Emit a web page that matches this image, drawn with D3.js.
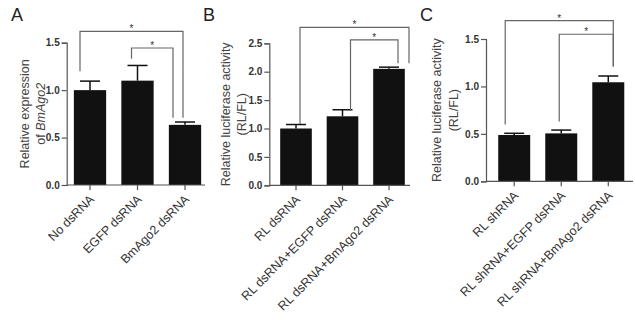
<!DOCTYPE html>
<html>
<head>
<meta charset="utf-8">
<script src="https://cdn.jsdelivr.net/npm/d3@7"></script>
<style>
  body { margin: 0; background: #fff; }
  svg { font-family: Arial, "Liberation Sans", sans-serif; }
</style>
</head>
<body>
<div id="container"></div>
<script>
/* DATA */
const catsA = ["No dsRNA", "EGFP dsRNA", "BmAgo2 dsRNA"];
const meanA = [1.0, 1.10, 0.634];
const errA = [0.095, 0.16, 0.03];
const ticksA = [0, 0.5, 1.0, 1.5];
// [from, to, level, left leg bottom, right leg bottom]
const sigA = [[0, 2, 1.62, 1.20, 0.71], [1, 2, 1.444, 1.33, 0.71]];

const catsB = ["RL dsRNA", "RL dsRNA+EGFP dsRNA", "RL dsRNA+BmAgo2 dsRNA"];
const meanB = [1.0, 1.215, 2.05];
const errB = [0.07, 0.115, 0.03];
const ticksB = [0, 0.5, 1.0, 1.5, 2.0, 2.5];
const sigB = [[0, 2, 2.78, 1.08, 2.15], [1, 2, 2.56, 1.31, 2.15]];

const catsC = ["RL shRNA", "RL shRNA+EGFP dsRNA", "RL shRNA+BmAgo2 dsRNA"];
const meanC = [0.488, 0.505, 1.044];
const errC = [0.018, 0.035, 0.066];
const ticksC = [0, 0.5, 1.0, 1.5];
const sigC = [[0, 2, 1.694, 0.60, 1.21], [1, 2, 1.55, 0.63, 1.21]];

/* LAYOUT */
const width = 635, height = 320;

const panels = [
  { letter: "A", cats: catsA, mean: meanA, err: errA, ticks: ticksA, sig: sigA,
    axisX: 66.7, y0: 185, yTop: 42.7, band: [66.25, 208.75], xEnd: 205,
    legDx: [[-10, -2], [-6, -12]], labelX: [24, 40], letterX: 11,
    ylab: ["Relative expression", "of "], ylabItalic: "BmAgo2" },
  { letter: "B", cats: catsB, mean: meanB, err: errB, ticks: ticksB, sig: sigB,
    axisX: 269.3, y0: 185.3, yTop: 43.3, band: [272.75, 412.25], xEnd: 410,
    legDx: [[4, 20], [8, 9]], labelX: [225, 241], letterX: 203,
    ylab: ["Relative luciferase activity", "(RL/FL)"] },
  { letter: "C", cats: catsC, mean: meanC, err: errC, ticks: ticksC, sig: sigC,
    axisX: 486, y0: 181.3, yTop: 39, band: [490.7, 631.8], xEnd: 633,
    legDx: [[-9, 5], [-2, 5]], labelX: [436, 453], letterX: 420,
    ylab: ["Relative luciferase activity", "(RL/FL)"] }
];

const svg = d3.select("#container")
  .append("svg")
  .attr("width", width)
  .attr("height", height);

panels.forEach(p => {
  const g = svg.append("g");
  const ymax = p.ticks[p.ticks.length - 1];

  // SCALES
  const xScale = d3.scaleBand()
    .domain(p.cats)
    .range(p.band)
    .paddingInner(0.32)
    .paddingOuter(0.16);

  const yScale = d3.scaleLinear()
    .domain([0, ymax])
    .range([p.y0, p.yTop]);

  // BARS
  g.selectAll("rect.bar")
    .data(p.cats)
    .join("rect")
    .attr("class", "bar")
    .attr("x", d => xScale(d))
    .attr("y", (d, i) => yScale(p.mean[i]))
    .attr("width", xScale.bandwidth())
    .attr("height", (d, i) => p.y0 - yScale(p.mean[i]))
    .attr("fill", "#111");

  // ERROR BARS (upper only)
  const cap = 10;
  p.cats.forEach((c, i) => {
    const cx = xScale(c) + xScale.bandwidth() / 2;
    const top = yScale(p.mean[i] + p.err[i]);
    g.append("line")
      .attr("x1", cx).attr("x2", cx)
      .attr("y1", yScale(p.mean[i])).attr("y2", top)
      .attr("stroke", "#111").attr("stroke-width", 1.5);
    g.append("line")
      .attr("x1", cx - cap).attr("x2", cx + cap)
      .attr("y1", top).attr("y2", top)
      .attr("stroke", "#111").attr("stroke-width", 1.5);
  });

  // Y AXIS
  const yAxis = d3.axisLeft(yScale)
    .tickValues(p.ticks)
    .tickFormat(d3.format(".1f"))
    .tickSize(5)
    .tickPadding(2);

  const ya = g.append("g")
    .attr("transform", `translate(${p.axisX},0)`)
    .call(yAxis);
  ya.select(".domain").attr("stroke", "#555").attr("stroke-width", 1.2);
  ya.selectAll(".tick line").attr("stroke", "#555").attr("stroke-width", 1.2);
  ya.selectAll(".tick text")
    .attr("fill", "#333")
    .attr("font-size", 10)
    .attr("font-weight", "bold")
    .attr("font-family", "Arial, 'Liberation Sans', sans-serif");

  // X AXIS
  g.append("line")
    .attr("x1", p.axisX).attr("x2", p.xEnd)
    .attr("y1", p.y0).attr("y2", p.y0)
    .attr("stroke", "#555").attr("stroke-width", 1.2);

  const xAxis = d3.axisBottom(xScale).tickSize(5).tickSizeOuter(0).tickFormat("");
  const xa = g.append("g")
    .attr("transform", `translate(0,${p.y0})`)
    .call(xAxis);
  xa.select(".domain").remove();
  xa.selectAll(".tick line").attr("stroke", "#555").attr("stroke-width", 1.2);

  // X LABELS
  g.selectAll("text.xlab")
    .data(p.cats)
    .join("text")
    .attr("class", "xlab")
    .attr("transform", d => `translate(${xScale(d) + xScale.bandwidth() / 2 + 5},${p.y0 + 15}) rotate(-45)`)
    .attr("text-anchor", "end")
    .attr("font-size", 12.5)
    .attr("fill", "#333")
    .text(d => d);

  // Y LABEL
  const ymid = (p.y0 + p.yTop) / 2;
  g.append("text")
    .attr("transform", `translate(${p.labelX[0] + 4.5},${ymid}) rotate(-90)`)
    .attr("text-anchor", "middle")
    .attr("font-size", 12.5)
    .attr("fill", "#444")
    .text(p.ylab[0]);
  const l2 = g.append("text")
    .attr("transform", `translate(${p.labelX[1] + 4.5},${ymid}) rotate(-90)`)
    .attr("text-anchor", "middle")
    .attr("font-size", 12.5)
    .attr("fill", "#444")
    .text(p.ylab[1]);
  if (p.ylabItalic) l2.append("tspan").attr("font-style", "italic").text(p.ylabItalic);

  // PANEL LETTER
  g.append("text")
    .attr("x", p.letterX)
    .attr("y", 21)
    .attr("font-size", 18)
    .attr("fill", "#222")
    .text(p.letter);

  // SIGNIFICANCE BRACKETS
  p.sig.forEach((s, k) => {
    const xl = xScale(p.cats[s[0]]) + xScale.bandwidth() / 2 + p.legDx[k][0];
    const xr = xScale(p.cats[s[1]]) + xScale.bandwidth() / 2 + p.legDx[k][1];
    const yb = yScale(s[2]);
    const path = d3.path();
    path.moveTo(xl, yScale(s[3]));
    path.lineTo(xl, yb);
    path.lineTo(xr, yb);
    path.lineTo(xr, yScale(s[4]));
    g.append("path")
      .attr("d", path.toString())
      .attr("fill", "none")
      .attr("stroke", "#666")
      .attr("stroke-width", 1.2);
    g.append("text")
      .attr("x", (xl + xr) / 2)
      .attr("y", yb + 1)
      .attr("text-anchor", "middle")
      .attr("font-size", 10)
      .attr("fill", "#333")
      .text("*");
  });
});
</script>
</body>
</html>
